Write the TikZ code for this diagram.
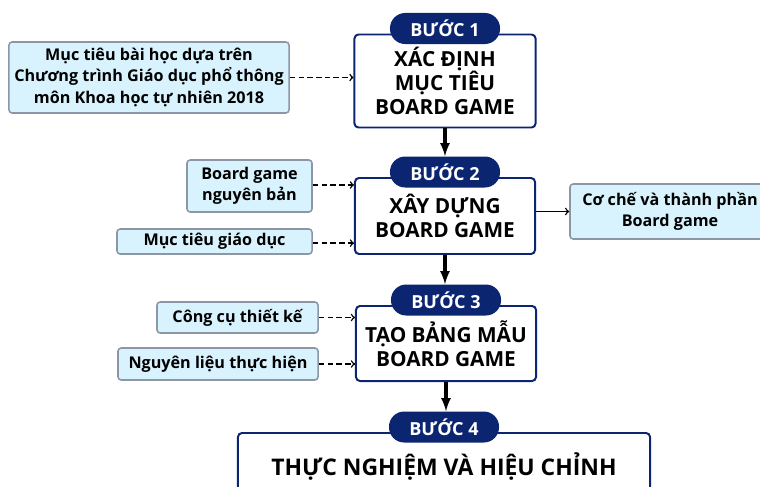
\documentclass[tikz,border=0pt]{standalone}
\usepackage{fontspec}
\setmainfont{Open Sans}
\usetikzlibrary{positioning}

\definecolor{stepblue}{HTML}{0B2571}
\definecolor{inputfill}{HTML}{D8F3FD}
\definecolor{inputline}{HTML}{8C96A4}

\tikzset{
	stepbox/.style={draw=stepblue, line width=1.4pt, rounded corners=0.1cm, fill=white, align=center, inner sep=0pt,
		font=\bfseries\fontsize{14.8}{16.9}\selectfont},
	steplabel/.style={fill=stepblue, text=white, rounded corners=0.38cm, minimum width=2.75cm, minimum height=0.775cm,
		inner sep=0pt, font=\bfseries\fontsize{12.8}{14}\selectfont},
	inputbox/.style={draw=inputline, line width=1.1pt, fill=inputfill, rounded corners=0.08cm, align=center, inner sep=0pt,
		font=\bfseries\fontsize{11.5}{15}\selectfont},
	flow/.style={-latex, line width=2.2pt},
	feed/.style={->, dash pattern=on 4pt off 2.2pt, line width=1pt},
	result/.style={->, line width=1pt},
}

\begin{document}
\begin{tikzpicture}[x=0.025cm, y=-0.025cm]

	\pgfmathsetmacro{\pilllift}{0.125}

	\clip (0,0) rectangle (760,486);

	% draw step boxes
	\node[stepbox, minimum width=4.525cm, minimum height=2.325cm] (box1) at (445,81) {XÁC ĐỊNH\\MỤC TIÊU\\BOARD GAME};
	\node[stepbox, minimum width=4.5cm, minimum height=1.9cm] (box2) at (445,216) {XÂY DỰNG\\BOARD GAME};
	\node[stepbox, minimum width=4.5cm, minimum height=1.875cm] (box3) at (446,343.5) {TẠO BẢNG MẪU\\BOARD GAME};
	\node[stepbox, minimum width=10.3cm, minimum height=1.675cm, font=\bfseries\fontsize{16.3}{18}\selectfont] (box4) at (444,466.5) {THỰC NGHIỆM VÀ HIỆU CHỈNH};

	% draw step labels on top of the boxes
	\foreach \n in {1,...,4}
	{
		\node[steplabel] (pill\n) at ([yshift=\pilllift cm]box\n.north) {BƯỚC \n};
	}

	% draw main flow
	\foreach \a/\b in {1/2, 2/3, 3/4}
	{
		\draw[flow] (box\a.south) -- (box\a.south |- pill\b.north);
	}

	% draw inputs
	\node[inputbox, minimum width=7cm, minimum height=1.775cm] (goal) at (149,77.5)
		{Mục tiêu bài học dựa trên\\Chương trình Giáo dục phổ thông\\môn Khoa học tự nhiên 2018};
	\node[inputbox, minimum width=3.125cm, minimum height=1.3cm] (origin) at (249.5,186) {Board game\\nguyên bản};
	\node[inputbox, minimum width=4.875cm, minimum height=0.625cm] (edugoal) at (214.5,241.5) {Mục tiêu giáo dục};
	\node[inputbox, minimum width=4.025cm, minimum height=0.775cm] (tools) at (237.5,317.5) {Công cụ thiết kế};
	\node[inputbox, minimum width=5cm, minimum height=0.8cm] (material) at (218,364) {Nguyên liệu thực hiện};

	% draw output
	\node[inputbox, minimum width=5cm, minimum height=1.375cm] (mechanic) at (670,211.5) {Cơ chế và thành phần\\Board game};

	% draw dashed input arrows
	\draw[feed] (goal.east) -- (goal.east -| box1.west);
	\draw[feed] ([yshift=0.025cm]origin.east) -- ([yshift=0.025cm]origin.east -| box2.west);
	\draw[feed] ([yshift=-0.04cm]edugoal.east) -- ([yshift=-0.04cm]edugoal.east -| box2.west);
	\draw[feed] (tools.east) -- (tools.east -| box3.west);
	\draw[feed] (material.east) -- (material.east -| box3.west);

	% draw output arrow
	\draw[result] (box2.east |- mechanic.west) -- (mechanic.west);

\end{tikzpicture}
\end{document}
